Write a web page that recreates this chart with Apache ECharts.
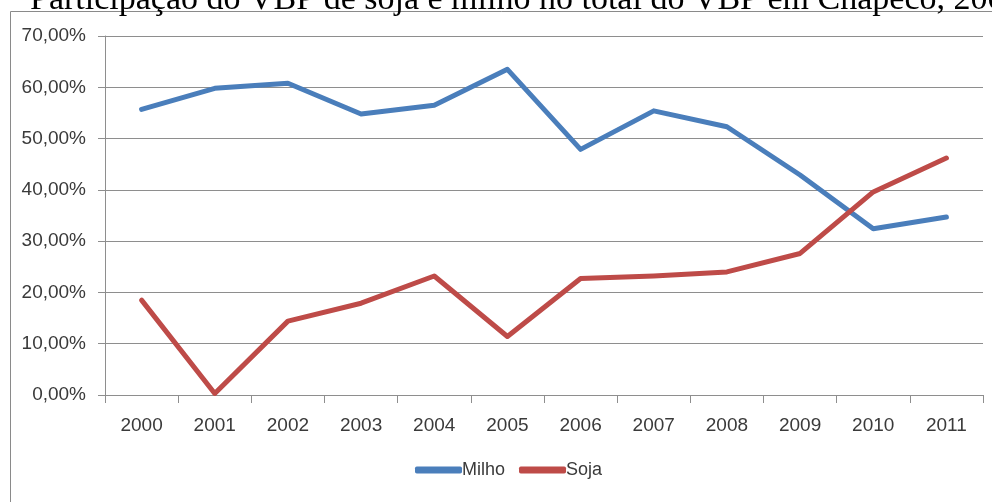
<!DOCTYPE html>
<html>
<head>
<meta charset="utf-8">
<script src="https://cdn.jsdelivr.net/npm/echarts@6/dist/echarts.min.js"></script>
<style>
  html, body { margin: 0; padding: 0; background: #fff; }
  #chart { width: 992px; height: 502px; }
</style>
</head>
<body>
<div id="chart"></div>
<script>
// data (percent of total VBP)
const years = ['2000', '2001', '2002', '2003', '2004', '2005', '2006', '2007', '2008', '2009', '2010', '2011']
const milho = [55.7, 59.8, 60.8, 54.8, 56.5, 63.5, 47.9, 55.4, 52.3, 42.9, 32.4, 34.7]
const soja = [18.5, 0.3, 14.4, 17.9, 23.2, 11.4, 22.7, 23.2, 24.0, 27.6, 39.6, 46.2]
const titleText = 'Participação do VBP de soja e milho no total do VBP em Chapecó, 2000'

const gridColor = '#8e8e8e'
const labelColor = '#3a3a3a'

const chart = echarts.init(document.getElementById('chart'))

function pct(v) {
  return v.toFixed(2).replace('.', ',') + '%'
}

const option = {
  animation: false,
  graphic: [
    {
      type: 'rect',
      shape: { x: 10.5, y: 11.5, width: 1000, height: 600 },
      style: { fill: 'none', stroke: '#8a8a8a', lineWidth: 1 }
    },
    {
      type: 'text',
      x: 30,
      y: 17,
      style: {
        text: titleText,
        font: '34px "Liberation Serif"',
        fill: '#000',
        verticalAlign: 'bottom'
      }
    }
  ],
  grid: {
    left: 105,
    right: 9,
    top: 36,
    bottom: 107
  },
  legend: {
    left: 410,
    top: 456,
    icon: 'roundRect',
    itemWidth: 47,
    itemHeight: 7,
    itemGap: 14,
    textStyle: {
      fontFamily: 'Liberation Sans',
      fontSize: 18,
      color: labelColor,
      padding: [0, 0, 0, -5]
    },
    data: ['Milho', 'Soja']
  },
  xAxis: {
    type: 'category',
    data: years,
    boundaryGap: true,
    axisLine: { lineStyle: { color: gridColor, width: 1 } },
    axisTick: { show: true, length: 8, lineStyle: { color: gridColor } },
    axisLabel: {
      color: labelColor,
      fontFamily: 'Liberation Sans',
      fontSize: 19,
      margin: 21
    },
    splitLine: { show: false }
  },
  yAxis: {
    type: 'value',
    min: 0,
    max: 70,
    interval: 10,
    axisLine: { show: true, lineStyle: { color: gridColor, width: 1 } },
    axisTick: { show: true, length: 7, lineStyle: { color: gridColor } },
    axisLabel: {
      color: labelColor,
      fontFamily: 'Liberation Sans',
      fontSize: 19,
      margin: 19,
      formatter: pct
    },
    splitLine: { show: true, lineStyle: { color: gridColor, width: 1 } }
  },
  series: [
    {
      name: 'Milho',
      type: 'line',
      data: milho,
      showSymbol: false,
      symbol: 'none',
      color: '#4a7ebb',
      lineStyle: { color: '#4a7ebb', width: 5, cap: 'round', join: 'round' }
    },
    {
      name: 'Soja',
      type: 'line',
      data: soja,
      showSymbol: false,
      symbol: 'none',
      color: '#be4b48',
      lineStyle: { color: '#be4b48', width: 5, cap: 'round', join: 'round' }
    }
  ]
}

chart.setOption(option)
</script>
</body>
</html>
